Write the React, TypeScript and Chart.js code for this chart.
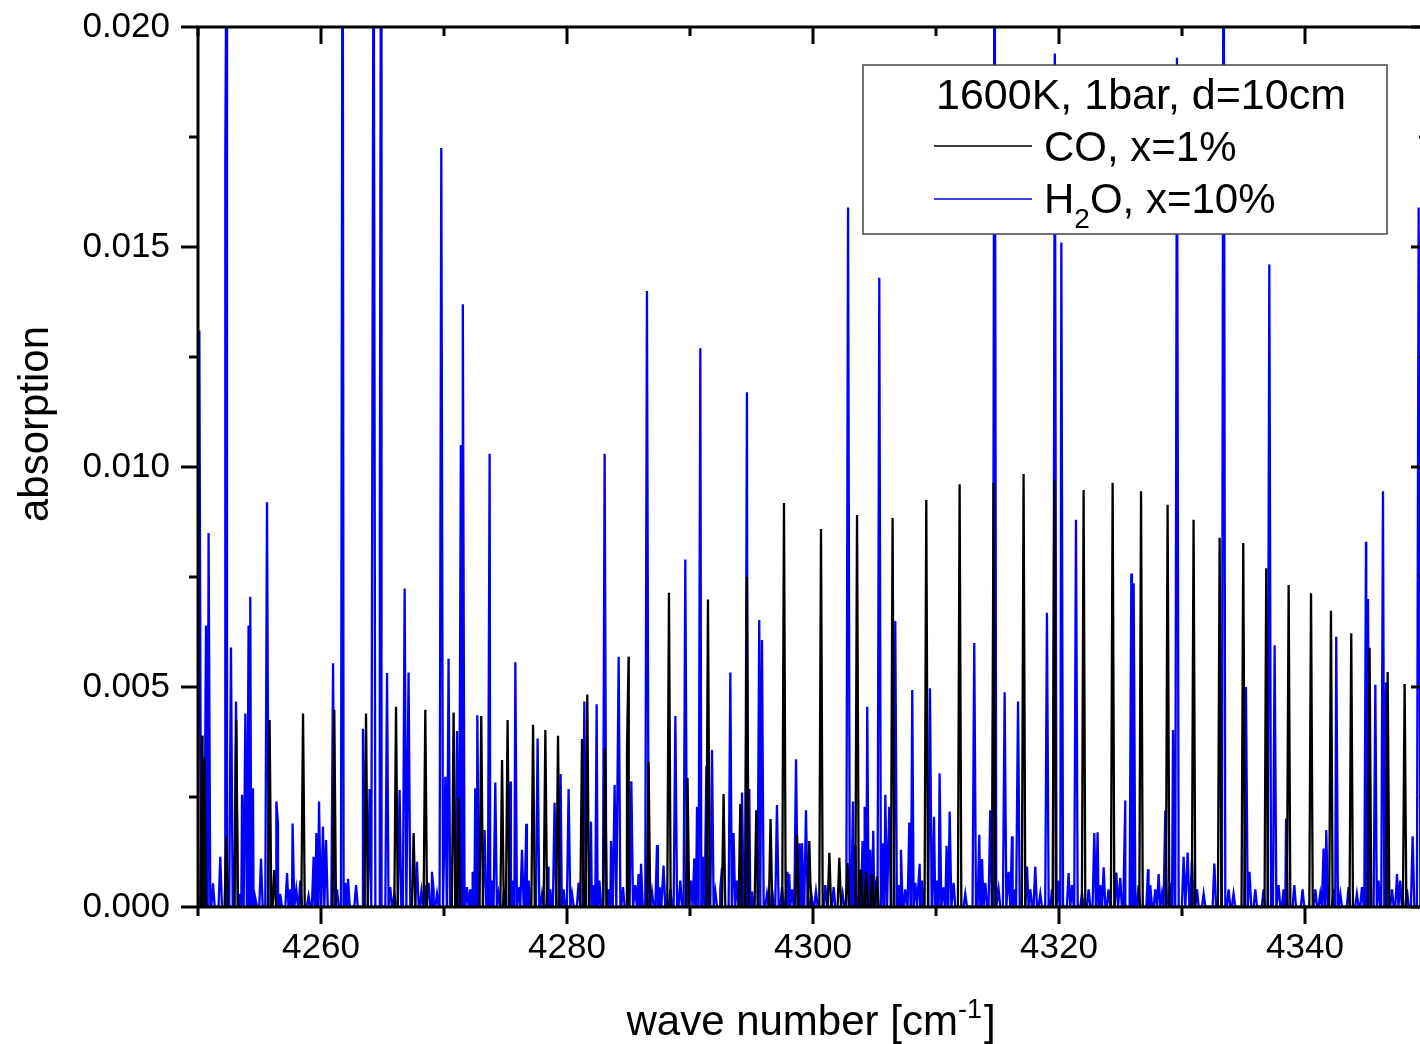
import React, { useEffect, useRef } from 'react';
import { Chart, registerables } from 'chart.js';

Chart.register(...registerables);

const FONT = '"Liberation Sans", Arial, Helvetica, sans-serif';

// ---- axes ----
const X_MIN = 4250;
const X_MAX = 4350;
const X_TICKS = [4250, 4260, 4270, 4280, 4290, 4300, 4310, 4320, 4330, 4340, 4350];
const X_TICK_LABELS = ['', '4260', '', '4280', '', '4300', '', '4320', '', '4340', ''];
const Y_MIN = 0;
const Y_MAX = 0.02;
const Y_TICKS = [0, 0.0025, 0.005, 0.0075, 0.01, 0.0125, 0.015, 0.0175, 0.02];
const Y_TICK_LABELS = ['0.000', '', '0.005', '', '0.010', '', '0.015', '', '0.020'];

const X_TITLE = 'wave number [cm';
const X_TITLE_SUP = '-1';
const Y_TITLE = 'absorption';
const LEGEND_TITLE = '1600K, 1bar, d=10cm';
const CO_LABEL = 'CO, x=1%';
const H2O_LABEL = ['H', '2', 'O, x=10%'];

// ---- line lists: [wave number cm-1, peak absorption] ----
const CO_LINES: [number, number][] = [
  [4250.33, 0.0039], [4250.51, 0.0034], [4252.30, 0.0016], [4253.11, 0.00425],
  [4255.82, 0.00425], [4256.20, 0.00084], [4258.54, 0.0044], [4261.08, 0.00448],
  [4263.66, 0.0044], [4266.10, 0.00455], [4267.53, 0.00168], [4268.48, 0.00448],
  [4270.78, 0.00442], [4271.19, 0.0025], [4273.03, 0.00434], [4274.72, 0.00334],
  [4275.17, 0.00425], [4277.24, 0.00414], [4278.24, 0.00402], [4279.27, 0.00389],
  [4281.22, 0.00382], [4281.65, 0.00483], [4283.09, 0.00361], [4284.88, 0.00361],
  [4285.01, 0.00569], [4286.63, 0.0033], [4288.29, 0.00714], [4289.80, 0.00293],
  [4291.46, 0.00699], [4292.73, 0.00257], [4294.09, 0.00234], [4294.63, 0.0075],
  [4295.39, 0.0022], [4296.55, 0.002], [4297.64, 0.00918], [4298.70, 0.00164],
  [4299.70, 0.0015], [4300.65, 0.00859], [4301.33, 0.00123], [4302.14, 0.00112],
  [4302.81, 0.001], [4303.58, 0.00891], [4303.90, 0.00085], [4304.33, 0.0008],
  [4304.80, 0.00075], [4305.20, 0.0007], [4306.47, 0.00884], [4309.21, 0.00925],
  [4311.92, 0.00961], [4314.68, 0.00964], [4317.12, 0.00984], [4319.62, 0.0097],
  [4322.00, 0.00948], [4324.36, 0.00964], [4326.67, 0.00945], [4328.83, 0.00914],
  [4330.94, 0.0088], [4333.06, 0.00839], [4334.98, 0.00827], [4336.85, 0.0077],
  [4338.67, 0.00732], [4340.49, 0.00713], [4342.11, 0.00673], [4343.76, 0.00622],
  [4345.25, 0.00589], [4346.72, 0.00534], [4348.10, 0.00507],
];

const H2O_LINES: [number, number][] = [
  [4250.11, 0.0131], [4250.65, 0.0064], [4250.86, 0.0085], [4251.81, 0.00114],
  [4252.22, 0.017], [4252.36, 0.025], [4252.68, 0.0059], [4253.09, 0.00467],
  [4253.58, 0.00255], [4253.85, 0.0044], [4254.11, 0.0064], [4254.25, 0.00705],
  [4254.47, 0.0027], [4255.12, 0.0011], [4255.61, 0.0092], [4256.37, 0.0024],
  [4256.50, 0.0019], [4257.24, 0.00077], [4257.69, 0.0019], [4258.32, 0.0006],
  [4259.40, 0.00114], [4259.62, 0.00168], [4259.84, 0.0024], [4260.16, 0.00183],
  [4260.41, 0.00152], [4260.98, 0.00554], [4261.76, 0.026], [4262.20, 0.00064],
  [4263.41, 0.00405], [4263.52, 0.002], [4263.95, 0.00268], [4264.28, 0.024],
  [4264.78, 0.0085], [4264.88, 0.024], [4265.37, 0.00532], [4266.39, 0.00266],
  [4266.80, 0.00724], [4267.12, 0.00533], [4267.80, 0.00103], [4269.02, 0.0008],
  [4269.78, 0.01725], [4270.11, 0.00296], [4270.37, 0.00564], [4271.06, 0.004],
  [4271.37, 0.0105], [4271.53, 0.0137], [4272.33, 0.0008], [4272.54, 0.0027],
  [4272.71, 0.00436], [4273.30, 0.00175], [4273.71, 0.0103], [4274.17, 0.00283],
  [4275.39, 0.00285], [4275.80, 0.00556], [4276.34, 0.0013], [4276.69, 0.00189],
  [4277.61, 0.00383], [4278.46, 0.00092], [4278.99, 0.00237], [4279.48, 0.00302],
  [4280.13, 0.00268], [4281.41, 0.00467], [4281.95, 0.00194], [4282.41, 0.00461],
  [4283.06, 0.0103], [4283.58, 0.0015], [4283.87, 0.00277], [4284.20, 0.00569],
  [4285.23, 0.00286], [4285.82, 0.00075], [4286.02, 0.00098], [4286.50, 0.014],
  [4287.32, 0.00141], [4287.85, 0.00094], [4288.81, 0.00434], [4289.62, 0.0079],
  [4290.35, 0.0011], [4290.57, 0.00228], [4290.84, 0.0127], [4291.06, 0.00114],
  [4291.33, 0.0032], [4291.79, 0.00357], [4292.60, 0.00089], [4293.28, 0.00533],
  [4293.54, 0.00168], [4294.23, 0.0026], [4294.63, 0.0117], [4294.82, 0.00268],
  [4295.63, 0.00652], [4295.85, 0.00607], [4297.07, 0.00232], [4297.89, 0.0008],
  [4298.07, 0.00075], [4298.62, 0.00336], [4298.91, 0.00145], [4299.11, 0.00145],
  [4299.43, 0.0022], [4302.85, 0.0159], [4303.25, 0.0024], [4303.44, 0.0014],
  [4304.03, 0.0015], [4304.20, 0.00228], [4304.41, 0.00455], [4304.66, 0.0013],
  [4304.90, 0.00173], [4305.39, 0.0143], [4305.66, 0.00145], [4305.88, 0.00255],
  [4306.20, 0.00228], [4306.69, 0.0065], [4307.15, 0.0013], [4307.83, 0.00192],
  [4308.07, 0.00493], [4308.67, 0.00098], [4309.51, 0.00497], [4309.84, 0.00205],
  [4310.29, 0.00304], [4310.86, 0.00139], [4311.11, 0.00217], [4313.11, 0.006],
  [4313.52, 0.00164], [4313.74, 0.00109], [4314.41, 0.0022], [4314.76, 0.025],
  [4315.58, 0.00488], [4315.90, 0.0008], [4316.18, 0.00161], [4316.67, 0.00467],
  [4317.40, 0.00092], [4318.07, 0.00092], [4319.02, 0.00669], [4319.66, 0.0194],
  [4320.19, 0.0151], [4320.78, 0.00077], [4321.38, 0.0088], [4322.87, 0.00168],
  [4323.14, 0.0017], [4323.63, 0.0009], [4324.66, 0.00078], [4324.98, 0.00066],
  [4325.39, 0.00242], [4325.88, 0.00758], [4326.07, 0.00736], [4327.24, 0.00086],
  [4328.10, 0.00075], [4328.64, 0.00219], [4329.27, 0.00402], [4329.59, 0.0193],
  [4330.13, 0.00114], [4330.46, 0.00124], [4330.81, 0.00108], [4332.63, 0.00099],
  [4333.38, 0.025], [4335.20, 0.005], [4335.49, 0.0008], [4337.10, 0.0146],
  [4337.53, 0.00595], [4338.46, 0.00201], [4341.51, 0.00133], [4341.73, 0.00175],
  [4342.54, 0.00614], [4344.96, 0.0083], [4345.12, 0.007], [4345.72, 0.00505],
  [4346.34, 0.00945], [4346.59, 0.0051], [4347.48, 0.00075], [4348.75, 0.00161],
  [4349.24, 0.0159],
];

const H2O_WEAK_LINES: [number, number][] = [
  [4251.22, 0.00054], [4253.38, 0.0003], [4254.66, 0.0002], [4256.69, 0.0003],
  [4257.50, 0.0004], [4257.99, 0.0004], [4258.99, 0.00025], [4261.30, 0.0004],
  [4261.98, 0.00055], [4262.85, 0.0005], [4265.63, 0.00045], [4265.96, 0.0003],
  [4268.16, 0.00035], [4268.42, 0.0005], [4268.75, 0.00055], [4269.15, 0.0004],
  [4269.43, 0.0003], [4271.87, 0.00045], [4272.14, 0.0004], [4273.90, 0.0006],
  [4274.44, 0.0003], [4274.90, 0.0004], [4275.58, 0.0006], [4276.07, 0.00045],
  [4276.88, 0.0006], [4277.97, 0.0003], [4278.64, 0.0004], [4279.72, 0.0004],
  [4280.41, 0.0003], [4280.94, 0.00055], [4282.16, 0.0005], [4282.63, 0.0006],
  [4283.38, 0.0004], [4284.55, 0.00045], [4285.55, 0.0005], [4286.91, 0.00035],
  [4287.53, 0.00045], [4288.40, 0.0004], [4289.21, 0.0006], [4290.08, 0.0006],
  [4292.06, 0.00035], [4292.46, 0.0004], [4293.82, 0.0006], [4295.04, 0.00035],
  [4296.26, 0.0003], [4296.67, 0.0004], [4297.48, 0.00045], [4298.29, 0.0004],
  [4299.86, 0.0003], [4300.24, 0.00035], [4301.00, 0.0005], [4301.68, 0.00045],
  [4302.41, 0.0003], [4305.12, 0.0006], [4306.96, 0.0005], [4307.50, 0.0004],
  [4308.32, 0.00055], [4308.86, 0.0006], [4310.08, 0.0006], [4310.62, 0.00045],
  [4311.43, 0.00055], [4312.38, 0.0003], [4314.01, 0.00055], [4315.09, 0.0004],
  [4316.37, 0.0004], [4317.67, 0.0004], [4318.48, 0.0003], [4319.43, 0.0004],
  [4319.97, 0.0006], [4321.06, 0.0005], [4321.87, 0.0003], [4322.41, 0.0004],
  [4323.36, 0.0005], [4324.03, 0.0004], [4325.25, 0.0004], [4326.47, 0.0005],
  [4327.42, 0.0005], [4327.83, 0.0004], [4328.37, 0.0003], [4329.05, 0.00055],
  [4331.22, 0.0004], [4331.76, 0.0003], [4333.79, 0.0004], [4334.19, 0.0003],
  [4335.96, 0.0004], [4336.63, 0.0004], [4337.85, 0.0005], [4338.26, 0.0004],
  [4339.13, 0.0005], [4339.80, 0.0004], [4340.84, 0.0004], [4341.24, 0.0003],
  [4342.32, 0.0004], [4342.87, 0.0003], [4343.54, 0.00045], [4344.22, 0.0003],
  [4344.63, 0.00045], [4345.98, 0.0006], [4347.07, 0.0004], [4347.74, 0.0006],
  [4348.29, 0.0004],
];

// half width (cm-1) of each drawn line spike
const LINE_HALF_WIDTH = 0.14;

function spectrum(lists: [number, number][][]) {
  const pts: { x: number; y: number }[] = [];
  for (const list of lists) {
    for (const [nu, a] of list) {
      pts.push({ x: nu - LINE_HALF_WIDTH, y: 0 });
      pts.push({ x: nu, y: a });
      pts.push({ x: nu + LINE_HALF_WIDTH, y: 0 });
    }
  }
  pts.sort((p, q) => p.x - q.x);
  return pts;
}

const decorPlugin = {
  id: 'decor',
  afterDatasetsDraw(chart: any) {
    const { ctx, chartArea: a, scales } = chart;
    const xs = scales.x;
    const ys = scales.y;
    ctx.save();
    ctx.strokeStyle = '#000';
    ctx.lineWidth = 3;
    ctx.lineCap = 'butt';
    const seg = (x1: number, y1: number, x2: number, y2: number) => {
      ctx.beginPath();
      ctx.moveTo(x1, y1);
      ctx.lineTo(x2, y2);
      ctx.stroke();
    };
    // ticks
    X_TICKS.forEach((v, i) => {
      const px = xs.getPixelForValue(v);
      const len = X_TICK_LABELS[i] ? 17 : 9;
      seg(px, a.bottom, px, a.bottom + len);
      seg(px, a.top, px, a.top + len);
    });
    Y_TICKS.forEach((v, i) => {
      const py = ys.getPixelForValue(v);
      const len = Y_TICK_LABELS[i] ? 17 : 9;
      seg(a.left - len, py, a.left, py);
      seg(a.right - len, py, a.right, py);
    });
    // frame
    ctx.strokeRect(a.left, a.top, a.right - a.left, a.bottom - a.top);

    // axis titles
    ctx.fillStyle = '#000';
    ctx.textBaseline = 'alphabetic';
    ctx.font = `42px ${FONT}`;
    const wMain = ctx.measureText(X_TITLE).width;
    const wBr = ctx.measureText(']').width;
    ctx.font = `27px ${FONT}`;
    const wSup = ctx.measureText(X_TITLE_SUP).width;
    const total = wMain + wSup + wBr + 2;
    let tx = (a.left + a.right) / 2 - total / 2 - 2;
    const tb = 1035;
    ctx.textAlign = 'left';
    ctx.font = `42px ${FONT}`;
    ctx.fillText(X_TITLE, tx, tb);
    tx += wMain;
    ctx.font = `27px ${FONT}`;
    ctx.fillText(X_TITLE_SUP, tx, tb - 17);
    tx += wSup + 2;
    ctx.font = `42px ${FONT}`;
    ctx.fillText(']', tx, tb);

    ctx.save();
    ctx.translate(48, 424);
    ctx.rotate(-Math.PI / 2);
    ctx.textAlign = 'center';
    ctx.font = `42px ${FONT}`;
    ctx.fillText(Y_TITLE, 0, 0);
    ctx.restore();

    // legend box
    const L = 863, T = 65, W = 524, H = 169;
    ctx.fillStyle = '#fff';
    ctx.fillRect(L, T, W, H);
    ctx.strokeStyle = '#444';
    ctx.lineWidth = 1.5;
    ctx.strokeRect(L, T, W, H);
    ctx.fillStyle = '#000';
    ctx.textAlign = 'left';
    ctx.font = `43px ${FONT}`;
    ctx.fillText(LEGEND_TITLE, 936, 109);
    ctx.font = `42px ${FONT}`;
    ctx.strokeStyle = '#000';
    ctx.lineWidth = 1.6;
    seg(934, 146, 1032, 146);
    ctx.fillText(CO_LABEL, 1044, 161);
    ctx.strokeStyle = '#0000ff';
    seg(934, 199, 1032, 199);
    let hx = 1044;
    ctx.fillText(H2O_LABEL[0], hx, 213);
    hx += ctx.measureText(H2O_LABEL[0]).width;
    ctx.font = `28px ${FONT}`;
    ctx.fillText(H2O_LABEL[1], hx, 228);
    hx += ctx.measureText(H2O_LABEL[1]).width;
    ctx.font = `42px ${FONT}`;
    ctx.fillText(H2O_LABEL[2], hx, 213);
    ctx.restore();
  },
};

export default function App() {
  const ref = useRef<HTMLCanvasElement | null>(null);

  useEffect(() => {
    if (!ref.current) return;
    const chart = new Chart(ref.current, {
      type: 'line',
      data: {
        datasets: [
          {
            label: CO_LABEL,
            data: spectrum([CO_LINES]),
            borderColor: '#000000',
            borderWidth: 2.3,
            pointRadius: 0,
            tension: 0,
            fill: false,
          },
          {
            label: 'H2O, x=10%',
            data: spectrum([H2O_LINES, H2O_WEAK_LINES]),
            borderColor: '#0000ff',
            borderWidth: 2.3,
            pointRadius: 0,
            tension: 0,
            fill: false,
          },
        ],
      },
      options: {
        animation: false,
        responsive: false,
        maintainAspectRatio: false,
        devicePixelRatio: 1,
        layout: { padding: { top: 27, right: 12, left: 0, bottom: 0 } },
        plugins: { legend: { display: false }, tooltip: { enabled: false } },
        scales: {
          x: {
            type: 'linear',
            min: X_MIN,
            max: X_MAX,
            afterBuildTicks: (s: any) => {
              s.ticks = X_TICKS.map((v) => ({ value: v }));
            },
            afterFit: (s: any) => {
              s.height = 137;
              s.paddingLeft = 0;
              s.paddingRight = 0;
            },
            ticks: {
              autoSkip: false,
              maxRotation: 0,
              padding: 20,
              color: '#000',
              font: { family: FONT, size: 35 },
              callback: (_v: any, i: number) => X_TICK_LABELS[i] ?? '',
            },
            grid: { display: false, drawTicks: false },
            border: { display: false },
          },
          y: {
            type: 'linear',
            min: Y_MIN,
            max: Y_MAX,
            afterBuildTicks: (s: any) => {
              s.ticks = Y_TICKS.map((v) => ({ value: v }));
            },
            afterFit: (s: any) => {
              s.width = 198;
              s.paddingTop = 0;
              s.paddingBottom = 0;
            },
            ticks: {
              autoSkip: false,
              padding: 28,
              color: '#000',
              font: { family: FONT, size: 35 },
              callback: (_v: any, i: number) => Y_TICK_LABELS[i] ?? '',
            },
            grid: { display: false, drawTicks: false },
            border: { display: false },
          },
        },
      },
      plugins: [decorPlugin],
    });
    return () => chart.destroy();
  }, []);

  return (
    <div
      style={{
        position: 'fixed',
        left: 0,
        top: 0,
        width: 1420,
        height: 1044,
        overflow: 'hidden',
        background: '#fff',
      }}
    >
      <canvas ref={ref} width={1440} height={1044} style={{ display: 'block', width: 1440, height: 1044 }} />
    </div>
  );
}
